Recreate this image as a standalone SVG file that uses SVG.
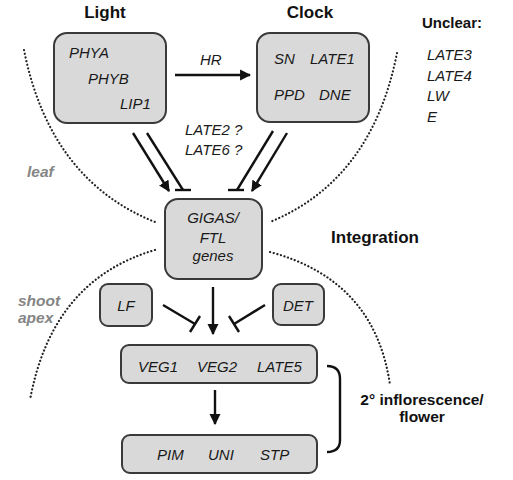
<svg xmlns="http://www.w3.org/2000/svg" width="513" height="480" viewBox="0 0 513 480">
<defs>
<marker id="ah" viewBox="0 0 10 10" refX="9" refY="5" markerWidth="4.6" markerHeight="4.6" orient="auto" markerUnits="strokeWidth">
<path d="M0,0 L10,5 L0,10 z" fill="#111"/>
</marker>
<style>
.box{fill:#d9d9d9;stroke:#3a3a3a;stroke-width:2}
.it{font-family:"Liberation Sans",Arial,sans-serif;font-style:italic;font-size:15px;fill:#1a1a1a}
.bd{font-family:"Liberation Sans",Arial,sans-serif;font-weight:bold;font-size:17px;fill:#111}
.gr{font-family:"Liberation Sans",Arial,sans-serif;font-weight:bold;font-style:italic;font-size:15.5px;fill:#858585}
.ln{stroke:#111;stroke-width:2.4;fill:none}
.dot{stroke:#222;stroke-width:2.2;fill:none;stroke-dasharray:0.1 3.6;stroke-linecap:round}
</style>
</defs>
<rect width="513" height="480" fill="#fff"/>
<g id="regions">
<path class="dot" d="M24,50 Q50,180 155,222"/>
<path class="dot" d="M397,53 Q372,180 270,222"/>
<path class="dot" d="M155,250 Q52,280 30,400"/>
<path class="dot" d="M270,252 Q375,280 390,385"/>
<text class="gr" x="27" y="177">leaf</text>
<text class="gr" x="18" y="306">shoot</text>
<text class="gr" x="18" y="323">apex</text>
</g>
<g id="titles">
<text class="bd" x="105" y="18" text-anchor="middle">Light</text>
<text class="bd" x="310" y="18" text-anchor="middle">Clock</text>
<text class="bd" x="375" y="243" text-anchor="middle">Integration</text>
<text class="bd" x="422" y="405" text-anchor="middle" style="font-size:15.5px">2° inflorescence/</text>
<text class="bd" x="422" y="422" text-anchor="middle" style="font-size:15.5px">flower</text>
</g>
<g id="unclear">
<text class="bd" x="422" y="28" style="font-size:15px">Unclear:</text>
<text class="it" x="427" y="60">LATE3</text>
<text class="it" x="427" y="81">LATE4</text>
<text class="it" x="427" y="101">LW</text>
<text class="it" x="427" y="122">E</text>
</g>
<g id="light">
<rect class="box" x="54" y="33" width="112" height="90" rx="13"/>
<text class="it" x="69" y="58">PHYA</text>
<text class="it" x="88" y="84">PHYB</text>
<text class="it" x="120" y="109">LIP1</text>
</g>
<g id="clock">
<rect class="box" x="257" y="33" width="112" height="89" rx="13"/>
<text class="it" x="274" y="64">SN</text>
<text class="it" x="310" y="64">LATE1</text>
<text class="it" x="274" y="100">PPD</text>
<text class="it" x="319" y="100">DNE</text>
</g>
<g id="gigas">
<rect class="box" x="165" y="199" width="97" height="80" rx="13"/>
<text class="it" x="213" y="223" text-anchor="middle">GIGAS/</text>
<text class="it" x="213" y="243" text-anchor="middle">FTL</text>
<text class="it" x="213" y="261" text-anchor="middle">genes</text>
</g>
<g id="lf">
<rect class="box" x="100" y="284" width="52" height="42" rx="8"/>
<text class="it" x="126" y="311" text-anchor="middle">LF</text>
</g>
<g id="det">
<rect class="box" x="273" y="284" width="51" height="41" rx="8"/>
<text class="it" x="298" y="311" text-anchor="middle">DET</text>
</g>
<g id="veg">
<rect class="box" x="121" y="345" width="196" height="38" rx="8"/>
<text class="it" x="138" y="372">VEG1</text>
<text class="it" x="197" y="372">VEG2</text>
<text class="it" x="257" y="372">LATE5</text>
</g>
<g id="pim">
<rect class="box" x="122" y="435" width="195" height="38" rx="8"/>
<text class="it" x="157" y="460">PIM</text>
<text class="it" x="208" y="460">UNI</text>
<text class="it" x="260" y="460">STP</text>
</g>
<g id="connectors">
<line class="ln" x1="175" y1="75" x2="250" y2="75" marker-end="url(#ah)"/>
<text class="it" x="200" y="65">HR</text>
<text class="it" x="185" y="135">LATE2 ?</text>
<text class="it" x="185" y="155">LATE6 ?</text>
<line class="ln" x1="133" y1="133" x2="169" y2="191" marker-end="url(#ah)"/>
<line class="ln" x1="147" y1="133" x2="183" y2="190"/>
<line class="ln" x1="175" y1="190" x2="191" y2="190"/>
<line class="ln" x1="287" y1="133" x2="252" y2="191" marker-end="url(#ah)"/>
<line class="ln" x1="273" y1="131" x2="237" y2="190"/>
<line class="ln" x1="228" y1="190" x2="244" y2="190"/>
<line class="ln" x1="213" y1="287" x2="213" y2="334" marker-end="url(#ah)"/>
<line class="ln" x1="163" y1="305" x2="195" y2="324"/>
<line class="ln" x1="190" y1="332" x2="200" y2="316"/>
<line class="ln" x1="265" y1="305" x2="234" y2="324"/>
<line class="ln" x1="229" y1="316" x2="239" y2="332"/>
<line class="ln" x1="215" y1="390" x2="215" y2="424" marker-end="url(#ah)"/>
<path class="ln" d="M327,366 Q340,366 340,379 L340,440 Q340,452 327,452"/>
</g>
</svg>
